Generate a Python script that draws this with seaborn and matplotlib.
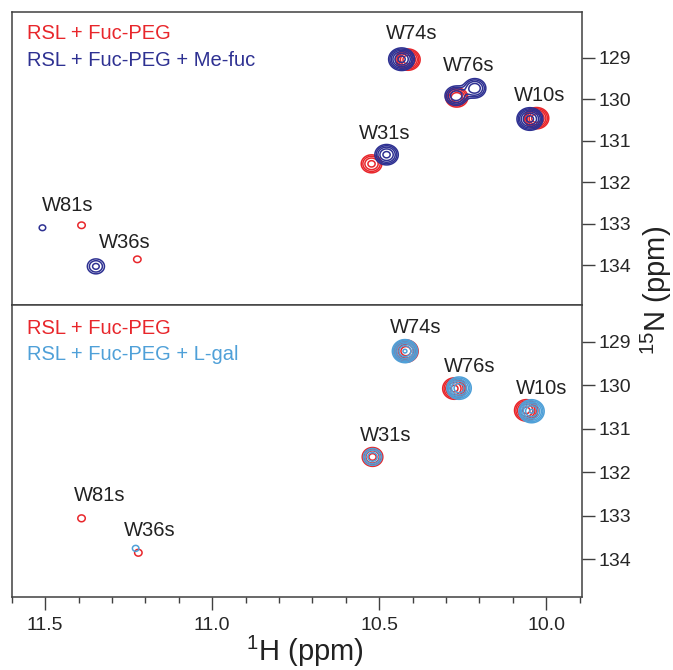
import numpy as np
import matplotlib
matplotlib.use("Agg")
import matplotlib.pyplot as plt
from matplotlib import font_manager
from matplotlib.ticker import MultipleLocator, FixedLocator, FormatStrFormatter
import seaborn as sns

# peak lists: 1H shift, 15N shift, relative height
ref_top_h = [10.414, 10.268, 10.029, 10.523, 11.391, 11.224]
ref_top_n = [129.05, 129.96, 130.46, 131.56, 133.04, 133.86]
ref_top_i = [7.0, 5.0, 7.0, 4.0, 1.2, 1.2]

mefuc_h = [10.433, 10.270, 10.214, 10.049, 10.478, 11.508, 11.348]
mefuc_n = [129.04, 129.92, 129.74, 130.48, 131.34, 133.10, 134.03]
mefuc_i = [9.0, 5.0, 5.0, 9.0, 6.0, 1.15, 2.6]

ref_bot_h = [10.420, 10.275, 10.060, 10.520, 11.391, 11.221]
ref_bot_n = [129.22, 130.08, 130.58, 131.65, 133.06, 133.85]
ref_bot_i = [7.0, 6.0, 6.0, 4.0, 1.2, 1.2]

lgal_h = [10.423, 10.261, 10.044, 10.520, 11.229]
lgal_n = [129.22, 130.07, 130.60, 131.65, 133.75]
lgal_i = [8.0, 7.0, 8.0, 3.0, 1.15]

# residue labels per panel
res_names = ["W74s", "W76s", "W10s", "W31s", "W81s", "W36s"]
lab_top_h = [10.403, 10.231, 10.019, 10.483, 11.432, 11.261]
lab_top_n = [128.41, 129.18, 129.92, 130.82, 132.57, 133.45]
lab_bot_h = [10.390, 10.229, 10.014, 10.480, 11.336, 11.188]
lab_bot_n = [128.67, 129.58, 130.07, 131.15, 132.53, 133.33]

n_ticks = [129, 130, 131, 132, 133, 134]

legend_top = ["RSL + Fuc-PEG", "RSL + Fuc-PEG + Me-fuc"]
legend_bot = ["RSL + Fuc-PEG", "RSL + Fuc-PEG + L-gal"]

RED = "#E8262B"
NAVY = "#2E3192"
SKY = "#4FA0D8"
FRAME = "#404040"

sns.set_style("ticks")


def pick_font(names):
    for n in names:
        try:
            font_manager.findfont(n, fallback_to_default=False)
            return n
        except Exception:
            pass
    return "DejaVu Sans"


base_font = pick_font(["Liberation Sans", "Arial"])
plt.rcParams["font.family"] = [base_font, "DejaVu Sans"]
plt.rcParams["mathtext.fontset"] = "custom"
plt.rcParams["mathtext.rm"] = base_font
plt.rcParams["mathtext.default"] = "rm"

fig = plt.figure(figsize=(6.73, 6.70), dpi=100)
left, width = 0.0174, 0.8469
ax_top = fig.add_axes([left, 0.5448, width, 0.98164 - 0.5448])
ax_bot = fig.add_axes([left, 0.1094, width, 0.5448 - 0.1094])

gx = np.linspace(9.85, 11.65, 1400)
gy = np.linspace(127.8, 135.1, 700)
GX, GY = np.meshgrid(gx, gy)
SX, SY = 0.0185, 0.13
levels = [1.0 * 1.5 ** k for k in range(6)]


def spectrum(hs, ns, amps):
    z = np.zeros_like(GX)
    for h, n, a in zip(hs, ns, amps):
        z += a * np.exp(-((GX - h) ** 2 / (2 * SX ** 2) + (GY - n) ** 2 / (2 * SY ** 2)))
    return z


def draw_panel(ax, sets, labels_h, labels_n, legend, colors, ylim, leg_y):
    for (hs, ns, amps), c in zip(sets, colors):
        ax.contour(GX, GY, spectrum(hs, ns, amps), levels=levels, colors=c, linewidths=1.1)
    for name, h, n in zip(res_names, labels_h, labels_n):
        ax.text(h, n, name, ha="center", va="center", fontsize=14.5, color="#222222")
    for txt, c, yy in zip(legend, colors, leg_y):
        ax.text(0.0263, yy, txt, transform=ax.transAxes, ha="left", va="center",
                fontsize=14.5, color=c)
    ax.set_xlim(11.6, 9.894)
    ax.set_ylim(*ylim)
    ax.yaxis.tick_right()
    ax.yaxis.set_major_locator(FixedLocator(n_ticks))
    ax.tick_params(axis="y", direction="out", length=9, width=1, color=FRAME,
                   labelsize=14, pad=3, left=False, right=True)
    for s in ax.spines.values():
        s.set_visible(True)
        s.set_color(FRAME)
        s.set_linewidth(1.1)


draw_panel(ax_top, [(ref_top_h, ref_top_n, ref_top_i), (mefuc_h, mefuc_n, mefuc_i)],
           lab_top_h, lab_top_n, legend_top, [RED, NAVY], (134.96, 127.91), [0.928, 0.837])
draw_panel(ax_bot, [(ref_bot_h, ref_bot_n, ref_bot_i), (lgal_h, lgal_n, lgal_i)],
           lab_bot_h, lab_bot_n, legend_bot, [RED, SKY], (134.86, 128.16), [0.920, 0.829])

ax_top.tick_params(axis="x", bottom=False, labelbottom=False, which="both")
ax_bot.xaxis.set_major_locator(MultipleLocator(0.5))
ax_bot.xaxis.set_minor_locator(MultipleLocator(0.1))
ax_bot.xaxis.set_major_formatter(FormatStrFormatter("%.1f"))
ax_bot.tick_params(axis="x", which="major", direction="out", length=9.5, width=1,
                   color=FRAME, labelsize=14, pad=5)
ax_bot.tick_params(axis="x", which="minor", direction="out", length=4.3, width=1,
                   color=FRAME)

fig.text(0.453, 0.0135, r"$^{1}$H (ppm)", ha="center", va="baseline",
         fontsize=21, color="#222222")
fig.text(0.975, 0.567, r"$^{15}$N (ppm)", ha="center", va="center", rotation=90,
         fontsize=21, color="#222222")

fig.savefig("out.png", dpi=100, facecolor="white")
